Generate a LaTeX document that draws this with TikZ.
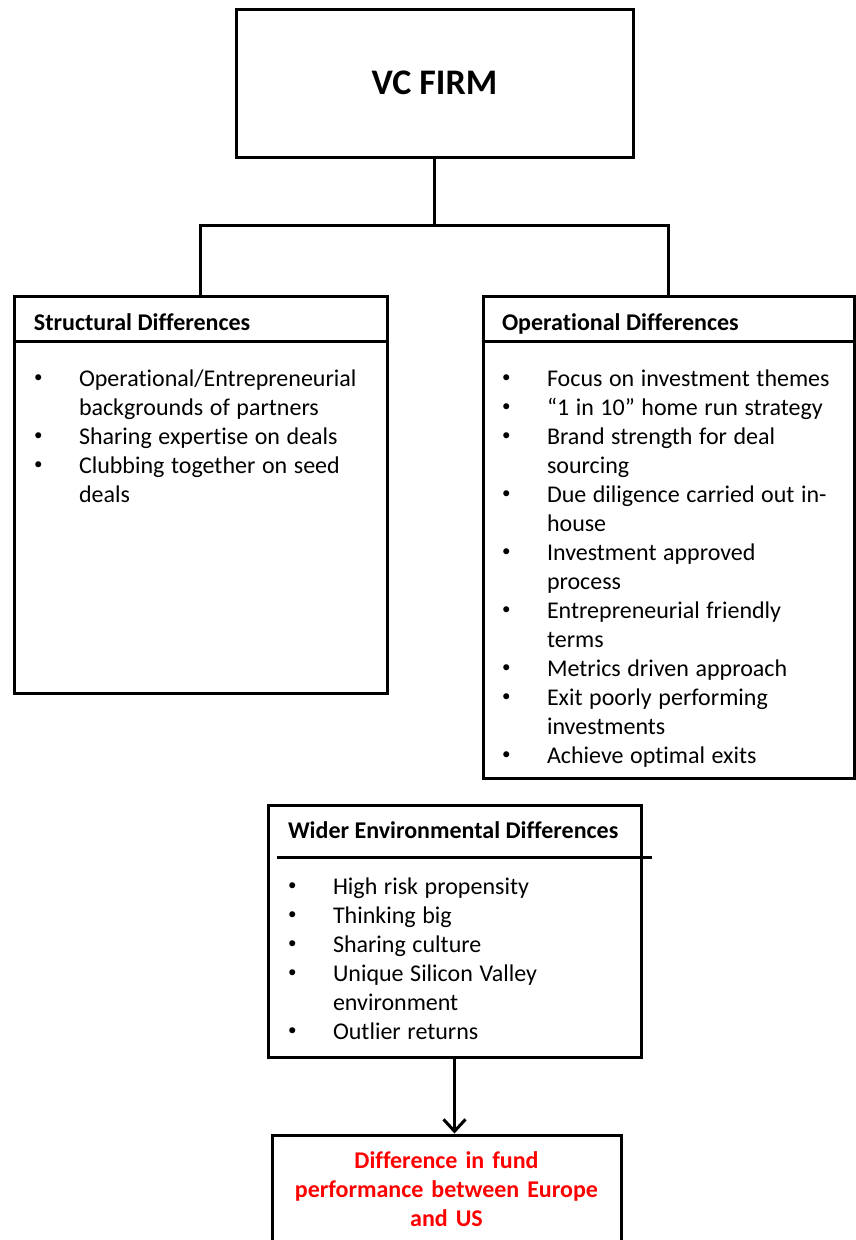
\documentclass[tikz,border=0pt]{standalone}
\usepackage{fontspec}
\setmainfont{Carlito}[Ligatures={NoCommon}]
\usetikzlibrary{arrows.meta,positioning}

\newcommand{\listsetup}{\fontsize{24}{29}\selectfont\raggedright\spaceskip=6.6pt\relax\parfillskip=0pt plus 1fil\relax}
\newcommand{\bitem}[1]{\par\noindent\hangindent=44pt\hangafter=1\strut
    \makebox[44pt][l]{\hspace{-1pt}\raisebox{3.5pt}{\fontsize{17}{17}\selectfont\textbullet}}#1}

\begin{document}
\begin{tikzpicture}
                [x=1pt, y=-1pt, line width=3pt,
                box/.style={draw, rectangle, inner sep=0pt},
                head/.style={font=\fontsize{24}{29}\selectfont\bfseries, inner sep=0pt, anchor=base west},
                list/.style={text width=360pt, inner sep=0pt, anchor=north west},
                ]
                \useasboundingbox (0,0) rectangle (856,1240);

                \node[box, minimum width=397pt, minimum height=148pt,
                    font=\fontsize{36}{42}\selectfont\bfseries] (firm) at (434.5,83) {VC FIRM};

                \node[box, minimum width=373pt, minimum height=397pt] (struct) at (200.5,494.5) {};
                \node[head] (structhead) at ([xshift=20pt,yshift=-36pt]struct.north west) {Structural Differences};
                \draw ([yshift=-47pt]struct.north west) -- ([yshift=-47pt]struct.north east);
                \node[list] (structlist) at ([xshift=21pt,yshift=-61pt]struct.north west) {\listsetup
                    \bitem{Operational/Entrepreneurial\newline backgrounds of partners}
                    \bitem{Sharing expertise on deals}
                    \bitem{Clubbing together on seed\newline deals}\par};

                \node[box, minimum width=371pt, minimum height=482pt] (oper) at (668.5,537) {};
                \node[head] (operhead) at ([xshift=19pt,yshift=-36pt]oper.north west) {Operational Differences};
                \draw ([yshift=-47pt]oper.north west) -- ([yshift=-47pt]oper.north east);
                \node[list] (operlist) at ([xshift=20pt,yshift=-61pt]oper.north west) {\listsetup
                    \bitem{Focus on investment themes}
                    \bitem{“1 in 10” home run strategy}
                    \bitem{Brand strength for deal\newline sourcing}
                    \bitem{Due diligence carried out in-\newline house}
                    \bitem{Investment approved\newline process}
                    \bitem{Entrepreneurial friendly\newline terms}
                    \bitem{Metrics driven approach}
                    \bitem{Exit poorly performing\newline investments}
                    \bitem{Achieve optimal exits}\par};

                \node[box, minimum width=373pt, minimum height=252pt] (env) at (454.5,931) {};
                \node[head] (envhead) at ([xshift=20pt,yshift=-35pt]env.north west) {Wider Environmental Differences};
                \draw ([xshift=10pt,yshift=-54pt]env.north west) -- ([xshift=9pt,yshift=-54pt]env.north east);
                \node[list] (envlist) at ([xshift=21pt,yshift=-60pt]env.north west) {\listsetup
                    \bitem{High risk propensity}
                    \bitem{Thinking big}
                    \bitem{Sharing culture}
                    \bitem{Unique Silicon Valley\newline environment}
                    \bitem{Outlier returns}\par};

                \node[box, minimum width=349pt, minimum height=115pt] (result) at (446.5,1192.5) {};
                \node[font=\fontsize{24}{29}\selectfont\bfseries, text=red, text width=340pt,
                    align=center, inner sep=0pt, anchor=north] (resulttext)
                    at ([yshift=-13pt]result.north) {\strut Difference in fund\\ performance between Europe\\ and US};

                \draw (firm.south) -- ++(0,67) coordinate (fork);
                \draw (struct.north) |- (fork) -| (oper.north);
                \draw[-{Straight Barb[length=12pt,width=22pt]}] (env.south) -- (env.south |- result.north);
            \end{tikzpicture}
\end{document}
